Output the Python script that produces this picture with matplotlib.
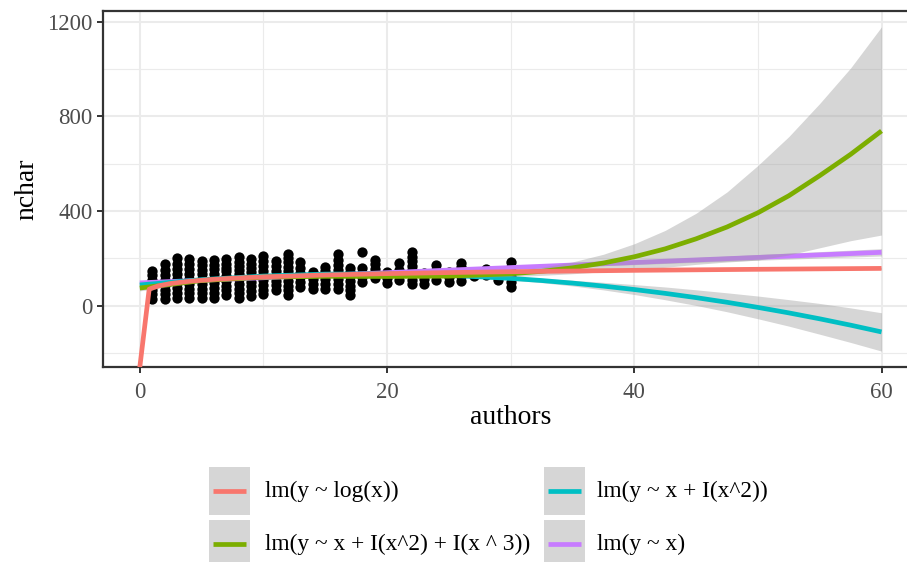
import numpy as np
import matplotlib
matplotlib.use("Agg")
import matplotlib.pyplot as plt

W, H, DPI = 907, 562, 100

# ---------------- data ----------------
authors_vals = list(range(1, 31))
nchar_c01 = [28, 48, 68, 88, 108, 128, 147]
nchar_c02 = [28, 48, 68, 88, 108, 128, 150, 176]
nchar_c03 = [35, 55, 75, 95, 115, 135, 155, 178, 200]
nchar_c04 = [33, 53, 73, 93, 113, 133, 155, 176, 197]
nchar_c05 = [33, 53, 73, 93, 113, 133, 152, 171, 190]
nchar_c06 = [35, 55, 75, 95, 115, 135, 155, 174, 193]
nchar_c07 = [45, 65, 85, 105, 125, 145, 160, 178, 197]
nchar_c08 = [33, 53, 73, 93, 113, 133, 153, 170, 187, 205]
nchar_c09 = [42, 62, 82, 102, 122, 142, 160, 178, 197]
nchar_c10 = [48, 68, 88, 108, 128, 148, 168, 190, 212]
nchar_c11 = [66, 86, 106, 126, 146, 168, 189]
nchar_c12 = [45, 65, 85, 105, 125, 145, 165, 185, 200, 218]
nchar_c13 = [80, 100, 120, 140, 160, 186]
nchar_c14 = [73, 93, 113, 127, 141]
nchar_c15 = [73, 93, 113, 133, 148, 163]
nchar_c16 = [73, 93, 113, 133, 153, 173, 195, 217]
nchar_c17 = [45, 65, 85, 105, 125, 143, 160]
nchar_c18 = [101, 120, 140, 158, 226]
nchar_c19 = [116, 136, 156, 175, 193]
nchar_c20 = [95, 118, 141]
nchar_c21 = [109, 129, 150, 179]
nchar_c22 = [91, 111, 131, 151, 170, 190, 208, 226]
nchar_c23 = [91, 114, 137]
nchar_c24 = [109, 129, 150, 172]
nchar_c25 = [101, 122, 144]
nchar_c26 = [104, 124, 144, 162, 179]
nchar_c27 = [125, 140]
nchar_c28 = [130, 155]
nchar_c29 = [109, 125, 137]
nchar_c30 = [80, 100, 120, 140, 162, 183]
nchar_cols = [nchar_c01, nchar_c02, nchar_c03, nchar_c04, nchar_c05, nchar_c06,
              nchar_c07, nchar_c08, nchar_c09, nchar_c10, nchar_c11, nchar_c12,
              nchar_c13, nchar_c14, nchar_c15, nchar_c16, nchar_c17, nchar_c18,
              nchar_c19, nchar_c20, nchar_c21, nchar_c22, nchar_c23, nchar_c24,
              nchar_c25, nchar_c26, nchar_c27, nchar_c28, nchar_c29, nchar_c30]

# fitted curves (read at these x positions)
x_fit = [0, 5, 10, 15, 20, 25, 30, 32.5, 35, 37.5, 40, 42.5, 45, 47.5, 50,
         52.5, 55, 57.5, 60]
lin_fit = [97, 107.8, 118.5, 129.3, 140, 150.8, 161.5, 166.9, 172.3, 177.6,
           183, 188.4, 193.8, 199.1, 204.5, 209.9, 215.3, 220.6, 226]
lin_band = [7, 5, 4, 4, 4, 5, 6, 6.5, 7, 8, 9, 9.5, 10, 11, 12, 13, 13.5,
            14.5, 15.5]
quad_fit = [88, 110.3, 125.6, 133.8, 134.9, 128.9, 115.9, 106.8, 95.9, 83.2,
            68.7, 52.5, 34.5, 14.8, -6.8, -30.0, -55.1, -81.9, -110.5]
quad_band = [9, 6, 4, 4, 4, 5, 7, 9, 12, 16, 21, 27, 33, 40, 48, 56, 65, 73, 81]
cubic_fit = [75, 106.7, 121.0, 124.6, 123.9, 125.3, 135.3, 145.6, 160.4,
             180.7, 207.1, 240.6, 283, 333, 393, 465, 550, 640, 739]
cubic_band = [12, 7, 5, 5, 5, 6, 12, 17, 25, 37, 55, 78, 108, 148, 200, 250,
              305, 365, 440]
x_log = [0, 0.76, 1.5, 2.5, 4, 6, 8, 10, 15, 20, 25, 30, 40, 50, 60]
log_fit = [-np.inf, 70.5, 84.1, 94.3, 103.7, 111.8, 117.6, 122.1, 130.2,
           135.9, 140.4, 144.0, 149.8, 154.2, 158.0]
log_band = [0, 10, 7, 5, 4, 3.5, 3, 3, 3, 3, 3, 3.5, 4, 4.5, 5]

legend_labels = ["lm(y ~ log(x))", "lm(y ~ x + I(x^2))",
                 "lm(y ~ x + I(x^2) + I(x ^ 3))", "lm(y ~ x)"]
c_log, c_cubic, c_quad, c_lin = "#F8766D", "#7CAE00", "#00BFC4", "#C77CFF"

x_ticks = [0, 20, 40, 60]
y_ticks = [0, 400, 800, 1200]
XLIM = (-3, 63)
YLIM = (-260, 1248)

# ---------------- figure ----------------
plt.rcParams["font.family"] = ["Liberation Serif", "DejaVu Serif"]
fig = plt.figure(figsize=(W / DPI, H / DPI), dpi=DPI)
fig.patch.set_facecolor("white")

px = lambda v: v / W
py = lambda v: 1 - v / H
left, right, top, bottom = 102.7, 918.6, 10.5, 367.3
ax = fig.add_axes([px(left), py(bottom), (right - left) / W, (bottom - top) / H])
ax.set_xlim(*XLIM)
ax.set_ylim(*YLIM)
ax.set_facecolor("white")

ax.set_xticks(x_ticks)
ax.set_yticks(y_ticks)
ax.set_xticks([10, 30, 50], minor=True)
ax.set_yticks([-200, 200, 600, 1000], minor=True)
ax.grid(which="major", color="#EBEBEB", linewidth=1.5, zorder=0)
ax.grid(which="minor", color="#EBEBEB", linewidth=0.8, zorder=0)
ax.set_axisbelow(True)
ax.tick_params(which="minor", length=0)
ax.tick_params(which="major", length=4.3, width=1.4, color="#333333",
               labelsize=16.5, labelcolor="#4D4D4D", pad=3)
ax.tick_params(axis="x", which="major", pad=6.5)
for s in ax.spines.values():
    s.set_color("#333333")
    s.set_linewidth(1.6)

# points
pts_x = np.concatenate([[a] * len(v) for a, v in zip(authors_vals, nchar_cols)])
pts_y = np.concatenate([np.asarray(v, float) for v in nchar_cols])
ax.scatter(pts_x, pts_y, s=55, color="black", linewidths=0, zorder=2)

ribbon_kw = dict(color="#999999", alpha=0.4, linewidth=0)
lw = 3.4

def smooth(x, mid, band, col, z):
    x = np.asarray(x, float)
    mid = np.asarray(mid, float)
    band = np.asarray(band, float)
    ok = np.isfinite(mid)
    ax.fill_between(x[ok], mid[ok] - band[ok], mid[ok] + band[ok], zorder=z, **ribbon_kw)
    yline = np.where(ok, mid, YLIM[0])
    ax.plot(x, yline, color=col, linewidth=lw, solid_capstyle="butt", zorder=z + 0.5)

smooth(x_fit, lin_fit, lin_band, c_lin, 3)
smooth(x_fit, quad_fit, quad_band, c_quad, 4)
smooth(x_fit, cubic_fit, cubic_band, c_cubic, 5)
smooth(x_log, log_fit, log_band, c_log, 6)

# axis titles
fig.text(px(27), py(189), "nchar", rotation=90, fontsize=20, ha="center",
         va="center", color="black")
fig.text(px(510.6), py(418), "authors", fontsize=20, ha="center",
         va="center", color="black")

# legend (bottom, two columns)
lg = fig.add_axes([0, 0, 1, 1], zorder=10)
lg.set_xlim(0, W)
lg.set_ylim(H, 0)
lg.axis("off")
lg.patch.set_alpha(0)
KW, KH = 41, 48
entries = [(legend_labels[0], c_log, 209.0, 467.0, 265.0),
           (legend_labels[1], c_quad, 544.0, 467.0, 597.0),
           (legend_labels[2], c_cubic, 209.0, 520.0, 265.0),
           (legend_labels[3], c_lin, 544.0, 520.0, 597.0)]
for lab, col, kx, ky, tx in entries:
    lg.add_patch(plt.Rectangle((kx, ky), KW, KH, facecolor="#D6D6D6",
                               edgecolor="none"))
    lg.plot([kx + 4, kx + KW - 4], [ky + KH / 2, ky + KH / 2], color=col,
            linewidth=lw, solid_capstyle="butt")
    lg.text(tx, ky + KH / 2, lab, fontsize=16.8, ha="left", va="center",
            color="black")

fig.savefig("out.png", dpi=DPI, facecolor="white")
